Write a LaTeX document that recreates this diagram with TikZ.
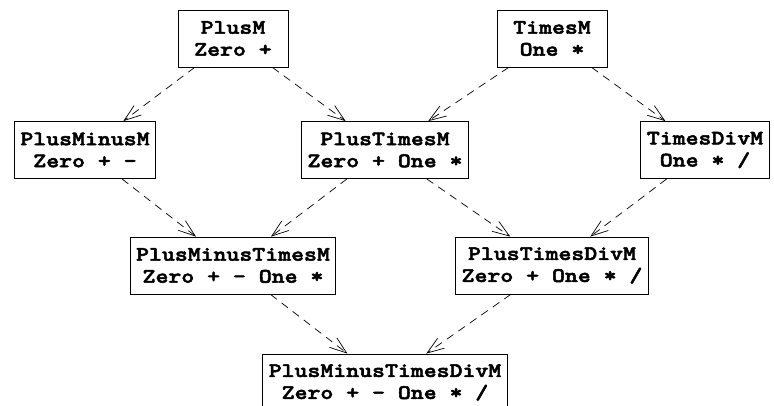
\documentclass[tikz,border=0pt]{standalone}
\usepackage{fontspec}
\newfontfamily\latfont{lmmonolt10-bold.otf}[FakeStretch=1.2,FakeBold=2.5]
\usetikzlibrary{arrows.meta,positioning}

\tikzset{
  lat/.style={draw, line width=0.8pt, align=center, minimum width=110pt,
    minimum height=57pt, inner xsep=6pt,
    font=\latfont\fontsize{20.5}{22}\selectfont},
  sub/.style={line width=0.7pt, dash pattern=on 8pt off 6pt,
    -{Straight Barb[length=17pt,width=12pt]}}
}

\begin{document}
\begin{tikzpicture}
	\useasboundingbox (0,0) rectangle (774pt,-406pt);
	\clip (0,0) rectangle (774pt,-406pt);
	% lattice of modules
	\node[lat] (plus) at (233pt,-38.5pt) {PlusM\\Zero +};
	\node[lat] (times) at (552pt,-38.5pt) {TimesM\\One *};
	\node[lat] (plusminus) at (85pt,-150pt) {PlusMinusM\\Zero + -};
	\node[lat] (plustimes) at (385pt,-150pt) {PlusTimesM\\Zero + One *};
	\node[lat] (timesdiv) at (705pt,-150pt) {TimesDivM\\One * /};
	\node[lat] (plusminustimes) at (233pt,-265.5pt) {PlusMinusTimesM\\Zero + - One *};
	\node[lat] (plustimesdiv) at (552pt,-265.5pt) {PlusTimesDivM\\Zero + One * /};
	\node[lat] (all) at (385pt,-382.5pt) {PlusMinusTimesDivM\\Zero + - One * /};
	
	\draw[sub] (plus) -- (plusminus);
	\draw[sub] (plus) -- (plustimes);
	\draw[sub] (times) -- (plustimes);
	\draw[sub] (times) -- (timesdiv);
	\draw[sub] (plusminus) -- (plusminustimes);
	\draw[sub] (plustimes) -- (plusminustimes);
	\draw[sub] (plustimes) -- (plustimesdiv);
	\draw[sub] (timesdiv) -- (plustimesdiv);
	\draw[sub] (plusminustimes) -- (all);
	\draw[sub] (plustimesdiv) -- (all);
\end{tikzpicture}
\end{document}
